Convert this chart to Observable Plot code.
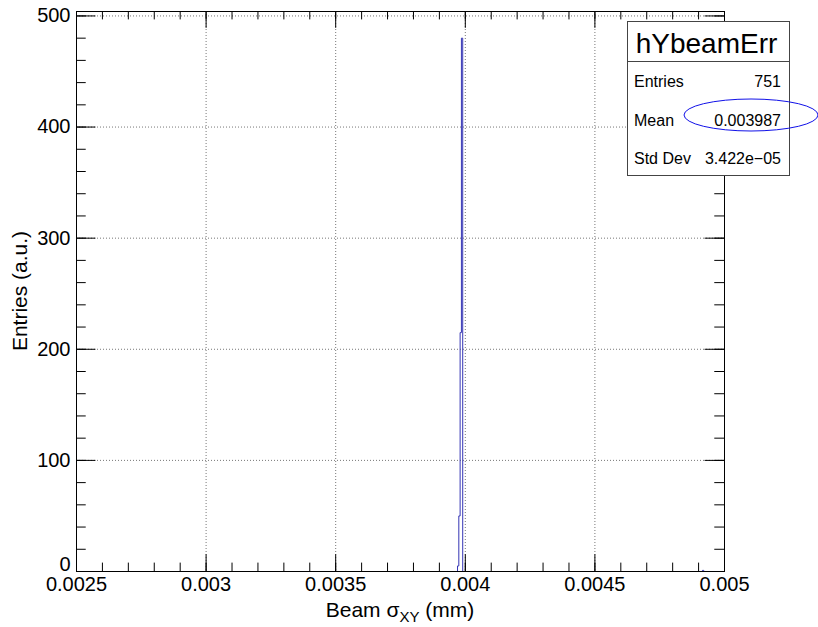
<!DOCTYPE html>
<html><head><meta charset="utf-8">
<script src="https://cdn.jsdelivr.net/npm/d3@7"></script>
<script src="https://cdn.jsdelivr.net/npm/@observablehq/plot@0.6"></script>
<style>body{margin:0;background:#fff}#chart svg{display:block}</style>
</head><body><div id="chart"></div>
<script>
// ---- data ----
const histName = "hYbeamErr";
const binStart = [0.00397, 0.003975, 0.00398, 0.003985, 0.004915];
const binCount = [5, 50, 215, 480, 1];
const binWidth = 0.000005;
const xDomain = [0.0025, 0.005];
const yDomain = [0, 504];
const xTickLabels = [0.0025, 0.003, 0.0035, 0.004, 0.0045, 0.005];
const yTickLabels = [0, 100, 200, 300, 400, 500];
const statsLabels = ["Entries", "Mean", "Std Dev"];
const statsValues = ["751", "0.003987", "3.422e\u221205"];
const xTitle = ["Beam ", "\u03c3", "XY", " (mm)"];
const yTitle = "Entries (a.u.)";

// ---- layout ----
const W = 818, H = 627;
const mL = 76, mR = 94, mT = 11, mB = 56;
const fw = W - mL - mR, fh = H - mT - mB;
const font = "'Liberation Sans', Arial, Helvetica, sans-serif";

const xMinor = d3.range(0, 26).map(i => +(xDomain[0] + i * 0.0001).toFixed(6));
const yMinor = d3.range(0, 501, 20);

// histogram outline (ROOT style step)
const outline = [];
let group = 0;
binStart.forEach((x0, i) => {
  const x1 = x0 + binWidth;
  const prevAdj = i > 0 && Math.abs(binStart[i - 1] + binWidth - x0) < 1e-12;
  if (!prevAdj) { group++; outline.push({x: x0, y: 0, g: group}); }
  outline.push({x: x0, y: binCount[i], g: group}, {x: x1, y: binCount[i], g: group});
  const nextAdj = i < binStart.length - 1 && Math.abs(x1 - binStart[i + 1]) < 1e-12;
  if (!nextAdj) outline.push({x: x1, y: 0, g: group});
});

const xMajLen = 0.03 * fh, xMinLen = xMajLen / 2;
const yMajLen = 0.03 * fw, yMinLen = yMajLen / 2;
const grid = {stroke: "#777", strokeDasharray: "1,2", strokeWidth: 1};

const chart = Plot.plot({
  width: W, height: H,
  marginLeft: mL, marginRight: mR, marginTop: mT, marginBottom: mB,
  style: {fontFamily: font, fontSize: "20px", background: "white", color: "black"},
  x: {domain: xDomain},
  y: {domain: yDomain},
  marks: [
    Plot.ruleX(xTickLabels.slice(1, -1), {...grid}),
    Plot.ruleY(yTickLabels.slice(1), {...grid}),
    Plot.line(outline, {x: "x", y: "y", z: "g", stroke: "#3434b4", strokeWidth: 1}),
    // x ticks bottom & top
    Plot.ruleX(xMinor, {insetTop: fh - xMinLen, stroke: "black"}),
    Plot.ruleX(xMinor, {insetBottom: fh - xMinLen, stroke: "black"}),
    Plot.ruleX(xTickLabels, {insetTop: fh - xMajLen, stroke: "black"}),
    Plot.ruleX(xTickLabels, {insetBottom: fh - xMajLen, stroke: "black"}),
    // y ticks left & right
    Plot.ruleY(yMinor, {insetRight: fw - yMinLen, stroke: "black"}),
    Plot.ruleY(yMinor, {insetLeft: fw - yMinLen, stroke: "black"}),
    Plot.ruleY(yTickLabels, {insetRight: fw - yMajLen, stroke: "black"}),
    Plot.ruleY(yTickLabels, {insetLeft: fw - yMajLen, stroke: "black"}),
    Plot.frame({stroke: "black"}),
    Plot.axisX({ticks: xTickLabels, tickSize: 0, tickPadding: 5, fontSize: 20, tickFormat: d => String(d), label: null}),
    Plot.axisY({ticks: yTickLabels.slice(1), tickSize: 0, tickPadding: 6, fontSize: 20, tickFormat: d => String(d), label: null}),
    Plot.text(yTickLabels.slice(0, 1), {y: d => d, frameAnchor: "left", textAnchor: "end", dx: -6, dy: -7, fontSize: 20, text: d => String(d)})
  ]
});
document.getElementById("chart").appendChild(chart);

const svg = d3.select(chart);
// axis titles
const xt = svg.append("text").attr("x", mL + fw / 2).attr("y", 617).attr("text-anchor", "middle")
  .attr("font-family", font).attr("font-size", 21).attr("fill", "black");
xt.append("tspan").text(xTitle[0]);
xt.append("tspan").text(xTitle[1]);
xt.append("tspan").attr("dy", 5).attr("font-size", 15).text(xTitle[2]);
xt.append("tspan").attr("dy", -5).text(xTitle[3]);

svg.append("text").attr("transform", `translate(27,${mT + fh / 2}) rotate(-90)`).attr("text-anchor", "middle")
  .attr("font-family", font).attr("font-size", 21).attr("fill", "black").text(yTitle);

// stats box
const bx = 627.5, by = 21.5, bw = 162, bh = 154;
const g = svg.append("g").attr("font-family", font).attr("fill", "black").attr("text-anchor", "start");
g.append("rect").attr("x", bx).attr("y", by).attr("width", bw).attr("height", bh)
  .attr("fill", "white").attr("stroke", "#444").attr("stroke-width", 1);
g.append("line").attr("x1", bx).attr("x2", bx + bw).attr("y1", 61.5).attr("y2", 61.5).attr("stroke", "#444");
g.append("text").attr("x", bx + bw / 2 - 2).attr("y", 52.5).attr("text-anchor", "middle").attr("font-size", 28).text(histName);
statsLabels.forEach((lab, i) => {
  const yy = 87 + i * 38.5;
  g.append("text").attr("x", 634).attr("y", yy).attr("text-anchor", "start").attr("font-size", 16).text(lab);
  g.append("text").attr("x", 781).attr("y", yy).attr("text-anchor", "end").attr("font-size", 16).text(statsValues[i]);
});
svg.append("ellipse").attr("cx", 751).attr("cy", 115).attr("rx", 67).attr("ry", 16)
  .attr("fill", "none").attr("stroke", "#1010e8").attr("stroke-width", 1);
</script>
</body></html>
